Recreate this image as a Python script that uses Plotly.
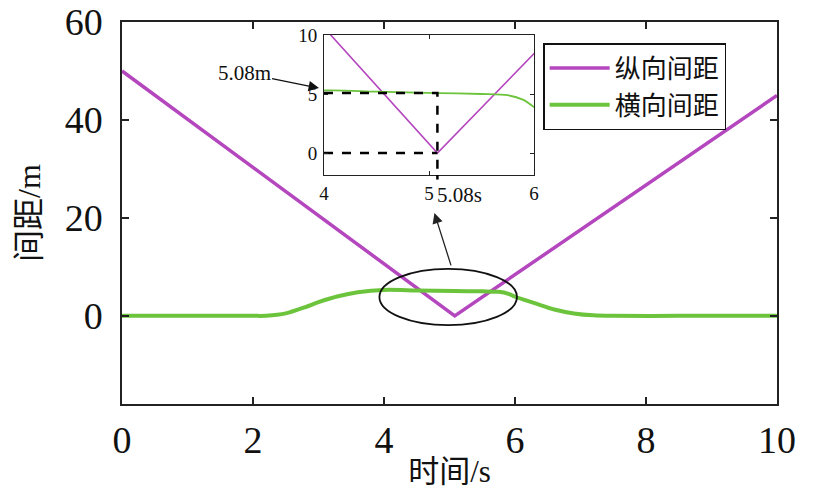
import plotly.graph_objects as go

# ---- data ----
t_long = [0.0, 5.08, 10.0]
gap_long = [50.0, 0.0, 45.0]

t_lat = [0.0, 1.0, 2.0, 2.2, 2.5, 2.8, 3.0, 3.3, 3.6, 4.0, 4.5, 5.08, 5.5, 5.75, 5.9, 6.0, 6.3, 6.6, 6.9, 7.2, 7.5, 8.5, 10.0]
gap_lat = [0.0, 0.0, 0.0, 0.02, 0.5, 1.8, 2.8, 4.0, 4.8, 5.3, 5.2, 5.08, 5.0, 4.9, 4.5, 3.9, 2.6, 1.3, 0.5, 0.1, 0.0, 0.0, 0.0]

t_min = 5.08
lat_at_min = 5.08

names = ["纵向间距", "横向间距"]
x_ticks = [0, 2, 4, 6, 8, 10]
y_ticks = [0, 20, 40, 60]
x_ticks_in = [4, 5, 6]
y_ticks_in = [0, 5, 10]

PURPLE = "#B446BE"
GREEN = "#6CC43C"
SERIF = "Liberation Serif, Noto Sans CJK SC"

inset_xdom = [0.3084, 0.629]
inset_ydom = [0.5995, 0.966]
inset_yrange = [-1.86, 10]

fig = go.Figure()
fig.add_trace(go.Scatter(x=t_long, y=gap_long, mode="lines", name=names[0],
                         line=dict(color=PURPLE, width=3.5), xaxis="x", yaxis="y"))
fig.add_trace(go.Scatter(x=t_lat, y=gap_lat, mode="lines", name=names[1],
                         line=dict(color=GREEN, width=4, shape="spline", smoothing=0.8),
                         xaxis="x", yaxis="y"))
# inset
fig.add_trace(go.Scatter(x=t_long, y=gap_long, mode="lines", showlegend=False,
                         line=dict(color=PURPLE, width=1.6), xaxis="x2", yaxis="y2"))
fig.add_trace(go.Scatter(x=t_lat, y=gap_lat, mode="lines", showlegend=False,
                         line=dict(color=GREEN, width=1.8, shape="spline", smoothing=0.8),
                         xaxis="x2", yaxis="y2"))
# dashed guide lines in inset
fig.add_trace(go.Scatter(x=[x_ticks_in[0], t_min, t_min], y=[lat_at_min, lat_at_min, inset_yrange[0]],
                         mode="lines", showlegend=False,
                         line=dict(color="black", width=2.5, dash="dash"), xaxis="x2", yaxis="y2"))
fig.add_trace(go.Scatter(x=[x_ticks_in[0], t_min], y=[0, 0],
                         mode="lines", showlegend=False,
                         line=dict(color="black", width=2.5, dash="dash"), xaxis="x2", yaxis="y2"))
# small extension of the vertical dashed line below the inset axis
fig.add_shape(type="line", xref="x2", yref="paper", x0=t_min, x1=t_min,
              y0=inset_ydom[0], y1=inset_ydom[0] - 0.012,
              line=dict(color="black", width=2.5))

axis_common = dict(showline=True, linecolor="#222", linewidth=1.5, mirror="ticks",
                   ticks="inside", tickcolor="#222", showgrid=False, zeroline=False,
                   automargin=False, ticklabeloverflow="allow")

fig.update_layout(
    width=814, height=497,
    margin=dict(l=122, r=37, t=22, b=93),
    paper_bgcolor="white", plot_bgcolor="white",
    xaxis=dict(range=[0, 10], tickvals=x_ticks, ticklen=7, tickwidth=1.5,
               tickfont=dict(family=SERIF, size=38, color="#111"), ticklabelstandoff=2,
               title=dict(text="时间/s", font=dict(family=SERIF, size=31, color="#111"), standoff=0),
               **axis_common),
    yaxis=dict(range=[-18, 60], tickvals=y_ticks, ticklen=7, tickwidth=1.5,
               tickfont=dict(family=SERIF, size=38, color="#111"), ticklabelstandoff=10,
               title=dict(text="间距/m", font=dict(family=SERIF, size=32, color="#111"), standoff=14),
               **axis_common),
    xaxis2=dict(domain=inset_xdom, anchor="y2", range=[4, 6], tickvals=x_ticks_in,
                ticklen=4, tickwidth=1, tickfont=dict(family=SERIF, size=19, color="#111"),
                ticklabelstandoff=1,
                **{**axis_common, "linewidth": 1}),
    yaxis2=dict(domain=inset_ydom, anchor="x2", range=inset_yrange, tickvals=y_ticks_in,
                ticklen=4, tickwidth=1, tickfont=dict(family=SERIF, size=19, color="#111"),
                ticklabelstandoff=2,
                **{**axis_common, "linewidth": 1}),
    legend=dict(x=0.643, y=0.945, xanchor="left", yanchor="top",
                bordercolor="#111", borderwidth=1.5, bgcolor="white",
                font=dict(family="Noto Sans CJK SC", size=26, color="#111"),
                itemwidth=60, tracegroupgap=0),
    showlegend=True,
)

# ellipse around the minimum region
fig.add_shape(type="circle", xref="x", yref="y", x0=3.93, x1=6.03, y0=-1.9, y1=9.6,
              line=dict(color="#111", width=1.8))

# arrow from ellipse to inset
fig.add_annotation(xref="x", yref="y", axref="x", ayref="y", x=4.77, y=21.0, ax=5.03, ay=10.0,
                   text="", showarrow=True, arrowhead=2, arrowsize=1.6, arrowwidth=1.3,
                   arrowcolor="#222")
# 5.08m label with arrow
fig.add_annotation(xref="x2", yref="y2", x=4.0, y=5.5, ax=-75, ay=-15, xshift=-5,
                   text="5.08m", showarrow=True, arrowhead=2, arrowsize=1.6, arrowwidth=1.3,
                   arrowcolor="#111", font=dict(family=SERIF, size=21, color="#111"))
# 5.08s label
fig.add_annotation(xref="x2", yref="paper", x=t_min, y=0.547, xanchor="left", yanchor="middle",
                   text="5.08s", showarrow=False, xshift=-2,
                   font=dict(family=SERIF, size=21, color="#111"))

fig.write_html("out.html", config={"displayModeBar": False},
               post_script="document.body.style.margin='0';")
